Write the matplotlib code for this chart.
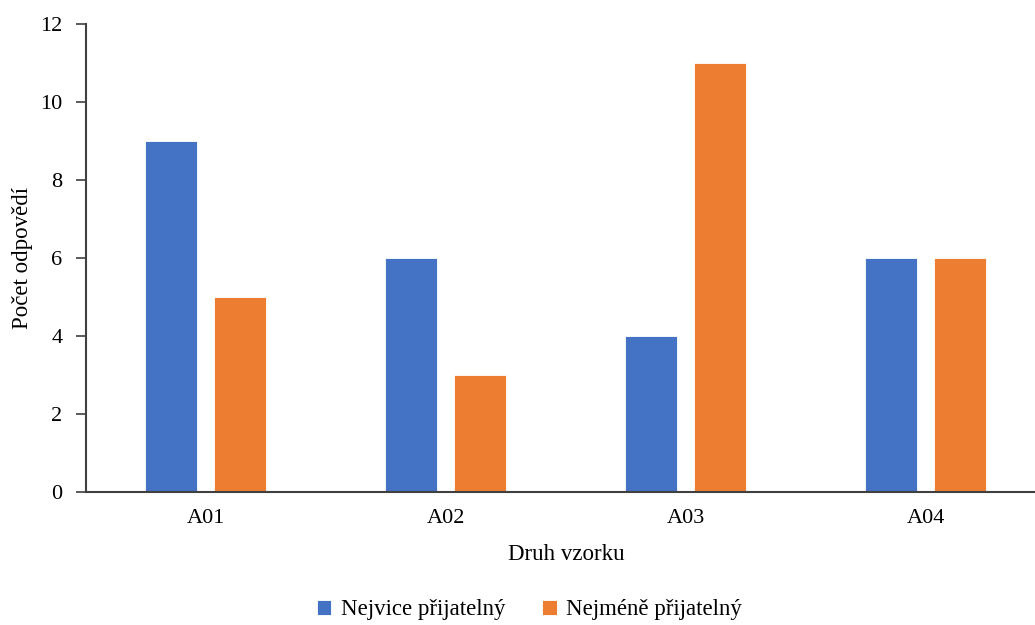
import matplotlib.pyplot as plt
import numpy as np

plt.rcParams['font.family'] = ['Liberation Serif', 'DejaVu Serif']

categories = ['A01', 'A02', 'A03', 'A04']
nejvice = [9, 6, 4, 6]
nejmene = [5, 3, 11, 6]
labels = ['Nejvice přijatelný', 'Nejméně přijatelný']
colors = ['#4472C4', '#ED7D31']

fig = plt.figure(figsize=(10.35, 6.25), dpi=100)
ax = fig.add_axes([86/1035, 1 - 492/625, 960/1035, 468/625])

x = np.arange(len(categories))
w = 0.217
ax.bar(x - 0.146, nejvice, w, color=colors[0], edgecolor='white', linewidth=0.6, label=labels[0])
ax.bar(x + 0.142, nejmene, w, color=colors[1], edgecolor='white', linewidth=0.6, label=labels[1])

ax.set_xlim(-0.5, len(categories) - 0.5)
ax.set_ylim(0, 12)
ax.set_yticks(range(0, 13, 2))
ax.set_xticks(x)
ax.set_xticklabels(categories)
ax.tick_params(axis='x', length=0, pad=12, labelsize=16)
ax.tick_params(axis='y', length=7, width=1.2, color='#404040', pad=10, labelsize=16)
for s in ['top', 'right']:
    ax.spines[s].set_visible(False)
for s in ['left', 'bottom']:
    ax.spines[s].set_color('#404040')
    ax.spines[s].set_linewidth(1.5)

ax.set_xlabel('Druh vzorku', fontsize=16.5, labelpad=12)
ax.set_ylabel('Počet odpovědí', fontsize=16.5, labelpad=5)

fig.legend(loc='center', bbox_to_anchor=(529/1035, 1 - 610/625), ncol=2, frameon=False,
           fontsize=16.5, handlelength=0.65, handleheight=0.65, handletextpad=0.4, columnspacing=1.6)

fig.savefig('out.png', dpi=100)
